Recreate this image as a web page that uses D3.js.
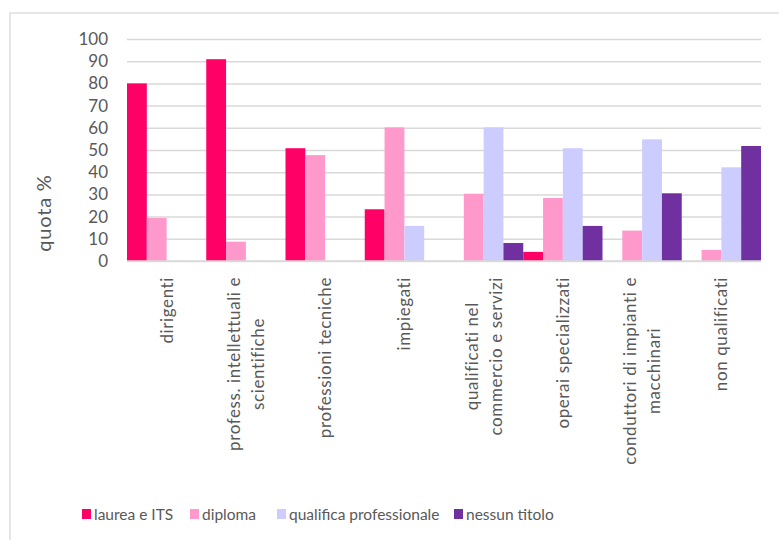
<!DOCTYPE html>
<html>
<head>
<meta charset="utf-8">
<script src="https://cdn.jsdelivr.net/npm/d3@7"></script>
<style>
  body { margin: 0; background: #fff; }
  text { font-family: Lato, "Open Sans", sans-serif; }
</style>
</head>
<body>
<script>
const width = 779, height = 540;
const margin = {top: 39, right: 18, bottom: 279, left: 127};

const categories = [
  ["dirigenti"],
  ["profess. intellettuali e", "scientifiche"],
  ["professioni tecniche"],
  ["impiegati"],
  ["qualificati nel", "commercio e  servizi"],
  ["operai specializzati"],
  ["conduttori di impianti e", "macchinari"],
  ["non qualificati"]
];
const seriesNames = ["laurea e ITS", "diploma", "qualifica professionale", "nessun titolo"];
const colors = ["#FF0066", "#FF99CC", "#CCCCFF", "#7030A0"];

const laurea    = [80.0, 90.9, 50.8, 23.3, 0, 4.1, 0, 0];
const diploma   = [19.4, 8.7, 47.7, 60.2, 30.3, 28.4, 13.7, 5.0];
const qualifica = [0, 0, 0, 15.8, 60.2, 50.8, 54.8, 42.2];
const nessun    = [0, 0, 0, 0, 8.1, 15.8, 30.5, 51.8];
const yTicks = [0, 10, 20, 30, 40, 50, 60, 70, 80, 90, 100];

const series = [laurea, diploma, qualifica, nessun];
const catIdx = categories.map((c, i) => i);

const svg = d3.select("body").append("svg")
    .attr("width", width)
    .attr("height", height);

// frame
svg.append("rect")
    .attr("x", 10).attr("y", 13)
    .attr("width", width).attr("height", height)
    .attr("fill", "none")
    .attr("stroke", "#D9D9D9")
    .attr("stroke-width", 1.3);

const x = d3.scaleBand()
    .domain(catIdx)
    .range([margin.left, width - margin.right])
    .padding(0);

const xs = d3.scaleBand()
    .domain(d3.range(series.length))
    .range([0, x.bandwidth()])
    .padding(0);

const y = d3.scaleLinear()
    .domain([0, 100])
    .range([height - margin.bottom, margin.top]);

// y axis + grid
svg.append("g")
    .attr("transform", `translate(${margin.left},0)`)
    .call(d3.axisLeft(y).tickValues(yTicks).tickSize(-(width - margin.right - margin.left)).tickPadding(19))
    .call(g => g.select(".domain").remove())
    .call(g => g.selectAll(".tick line").attr("stroke", "#D9D9D9").attr("stroke-width", 1.5))
    .call(g => g.selectAll(".tick text")
        .attr("fill", "#595959")
        .attr("font-size", 17)
        .attr("font-family", "Lato, sans-serif"));

// bars
svg.append("g")
  .selectAll("g")
  .data(series)
  .join("g")
    .attr("fill", (d, i) => colors[i])
  .selectAll("rect")
  .data((d, si) => d.map((v, ci) => ({v, ci, si})))
  .join("rect")
    .attr("x", d => x(d.ci) + xs(d.si))
    .attr("width", xs.bandwidth())
    .attr("y", d => y(d.v))
    .attr("height", d => y(0) - y(d.v));

// x axis line
svg.append("line")
    .attr("x1", margin.left).attr("x2", width - margin.right)
    .attr("y1", y(0)).attr("y2", y(0))
    .attr("stroke", "#D9D9D9").attr("stroke-width", 1.5);

// x labels, rotated
const lineH = 24;
const labels = svg.append("g")
  .selectAll("g")
  .data(categories)
  .join("g")
    .attr("transform", (d, i) => `translate(${x(i) + x.bandwidth() / 2},277) rotate(-90)`);

labels.each(function(lines) {
  const g = d3.select(this);
  const t = g.append("text")
      .attr("fill", "#595959")
      .attr("font-size", 17)
      .attr("letter-spacing", 0.6)
      .attr("text-anchor", "middle");
  lines.forEach((ln, k) => {
    t.append("tspan")
      .attr("x", 0)
      .attr("y", (k - (lines.length - 1) / 2) * lineH + 6)
      .text(ln);
  });
  // shift so longest line ends at the top position
  const w = t.node().getBBox().width;
  t.attr("transform", `translate(${-w / 2},0)`);
});

// y title
svg.append("text")
    .attr("transform", "translate(51,213) rotate(-90)")
    .attr("text-anchor", "middle")
    .attr("fill", "#595959")
    .attr("font-size", 20)
    .attr("letter-spacing", 0.8)
    .text("quota %");

// legend
const legendX = [82, 190, 277, 454];
const legend = svg.append("g")
  .selectAll("g")
  .data(seriesNames)
  .join("g")
    .attr("transform", (d, i) => `translate(${legendX[i]},514)`);

legend.append("rect")
    .attr("x", 0).attr("y", -5)
    .attr("width", 9).attr("height", 10)
    .attr("fill", (d, i) => colors[i]);

legend.append("text")
    .attr("x", 12).attr("y", 6)
    .attr("fill", "#595959")
    .attr("font-size", 15.5)
    .text(d => d);
</script>
</body>
</html>
